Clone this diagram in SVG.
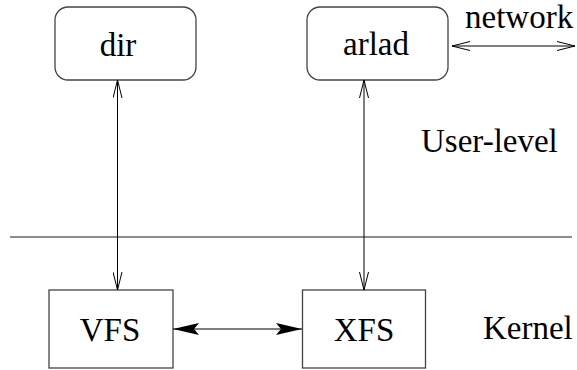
<svg xmlns="http://www.w3.org/2000/svg" width="577" height="370" viewBox="0 0 577 370">
<style>
.box{fill:#fff;stroke:#444;stroke-width:1.3}
text{font-family:'Liberation Serif','Times New Roman',serif;font-size:33px;fill:#000}
.c{stroke:#000;stroke-width:1;fill:none}
.open{fill:none;stroke:#000;stroke-width:1}
</style>
<defs>
<marker id="oa" viewBox="0 0 20 10" refX="18" refY="5" markerWidth="20" markerHeight="10" markerUnits="userSpaceOnUse" orient="auto-start-reverse">
<path d="M0,0.5 L18,5 L0,9.5" class="open"/>
</marker>
<marker id="fa" viewBox="0 0 26 12" refX="26" refY="6" markerWidth="26" markerHeight="12" markerUnits="userSpaceOnUse" orient="auto-start-reverse">
<path d="M0,0 L26,6 L0,12 L5,6 Z" fill="#000"/>
</marker>
</defs>
<line x1="10" y1="237" x2="572" y2="237" stroke="#666" stroke-width="1.5"/>
<g id="dir"><rect class="box" x="55" y="7" width="141" height="73" rx="13"/><text x="118" y="56" text-anchor="middle">dir</text></g>
<g id="arlad"><rect class="box" x="307" y="7" width="141" height="73" rx="13"/><text x="376" y="55" text-anchor="middle">arlad</text></g>
<g id="vfs"><rect class="box" x="49" y="290" width="124" height="78"/><text x="110" y="341" text-anchor="middle">VFS</text></g>
<g id="xfs"><rect class="box" x="302.5" y="290" width="123" height="78"/><text x="364" y="341" text-anchor="middle">XFS</text></g>
<g id="labels">
<text x="465" y="28">network</text>
<text x="421" y="152">User-level</text>
<text x="483" y="339">Kernel</text>
</g>
<g id="connectors">
<line class="c" x1="117.5" y1="80" x2="117.5" y2="290" marker-start="url(#oa)" marker-end="url(#oa)"/>
<line class="c" x1="364" y1="80" x2="364" y2="290" marker-start="url(#oa)" marker-end="url(#oa)"/>
<line class="c" x1="452" y1="46" x2="575" y2="46" marker-start="url(#oa)" marker-end="url(#oa)"/>
<line class="c" x1="173" y1="329" x2="302" y2="329" marker-start="url(#fa)" marker-end="url(#fa)"/>
</g>
</svg>
